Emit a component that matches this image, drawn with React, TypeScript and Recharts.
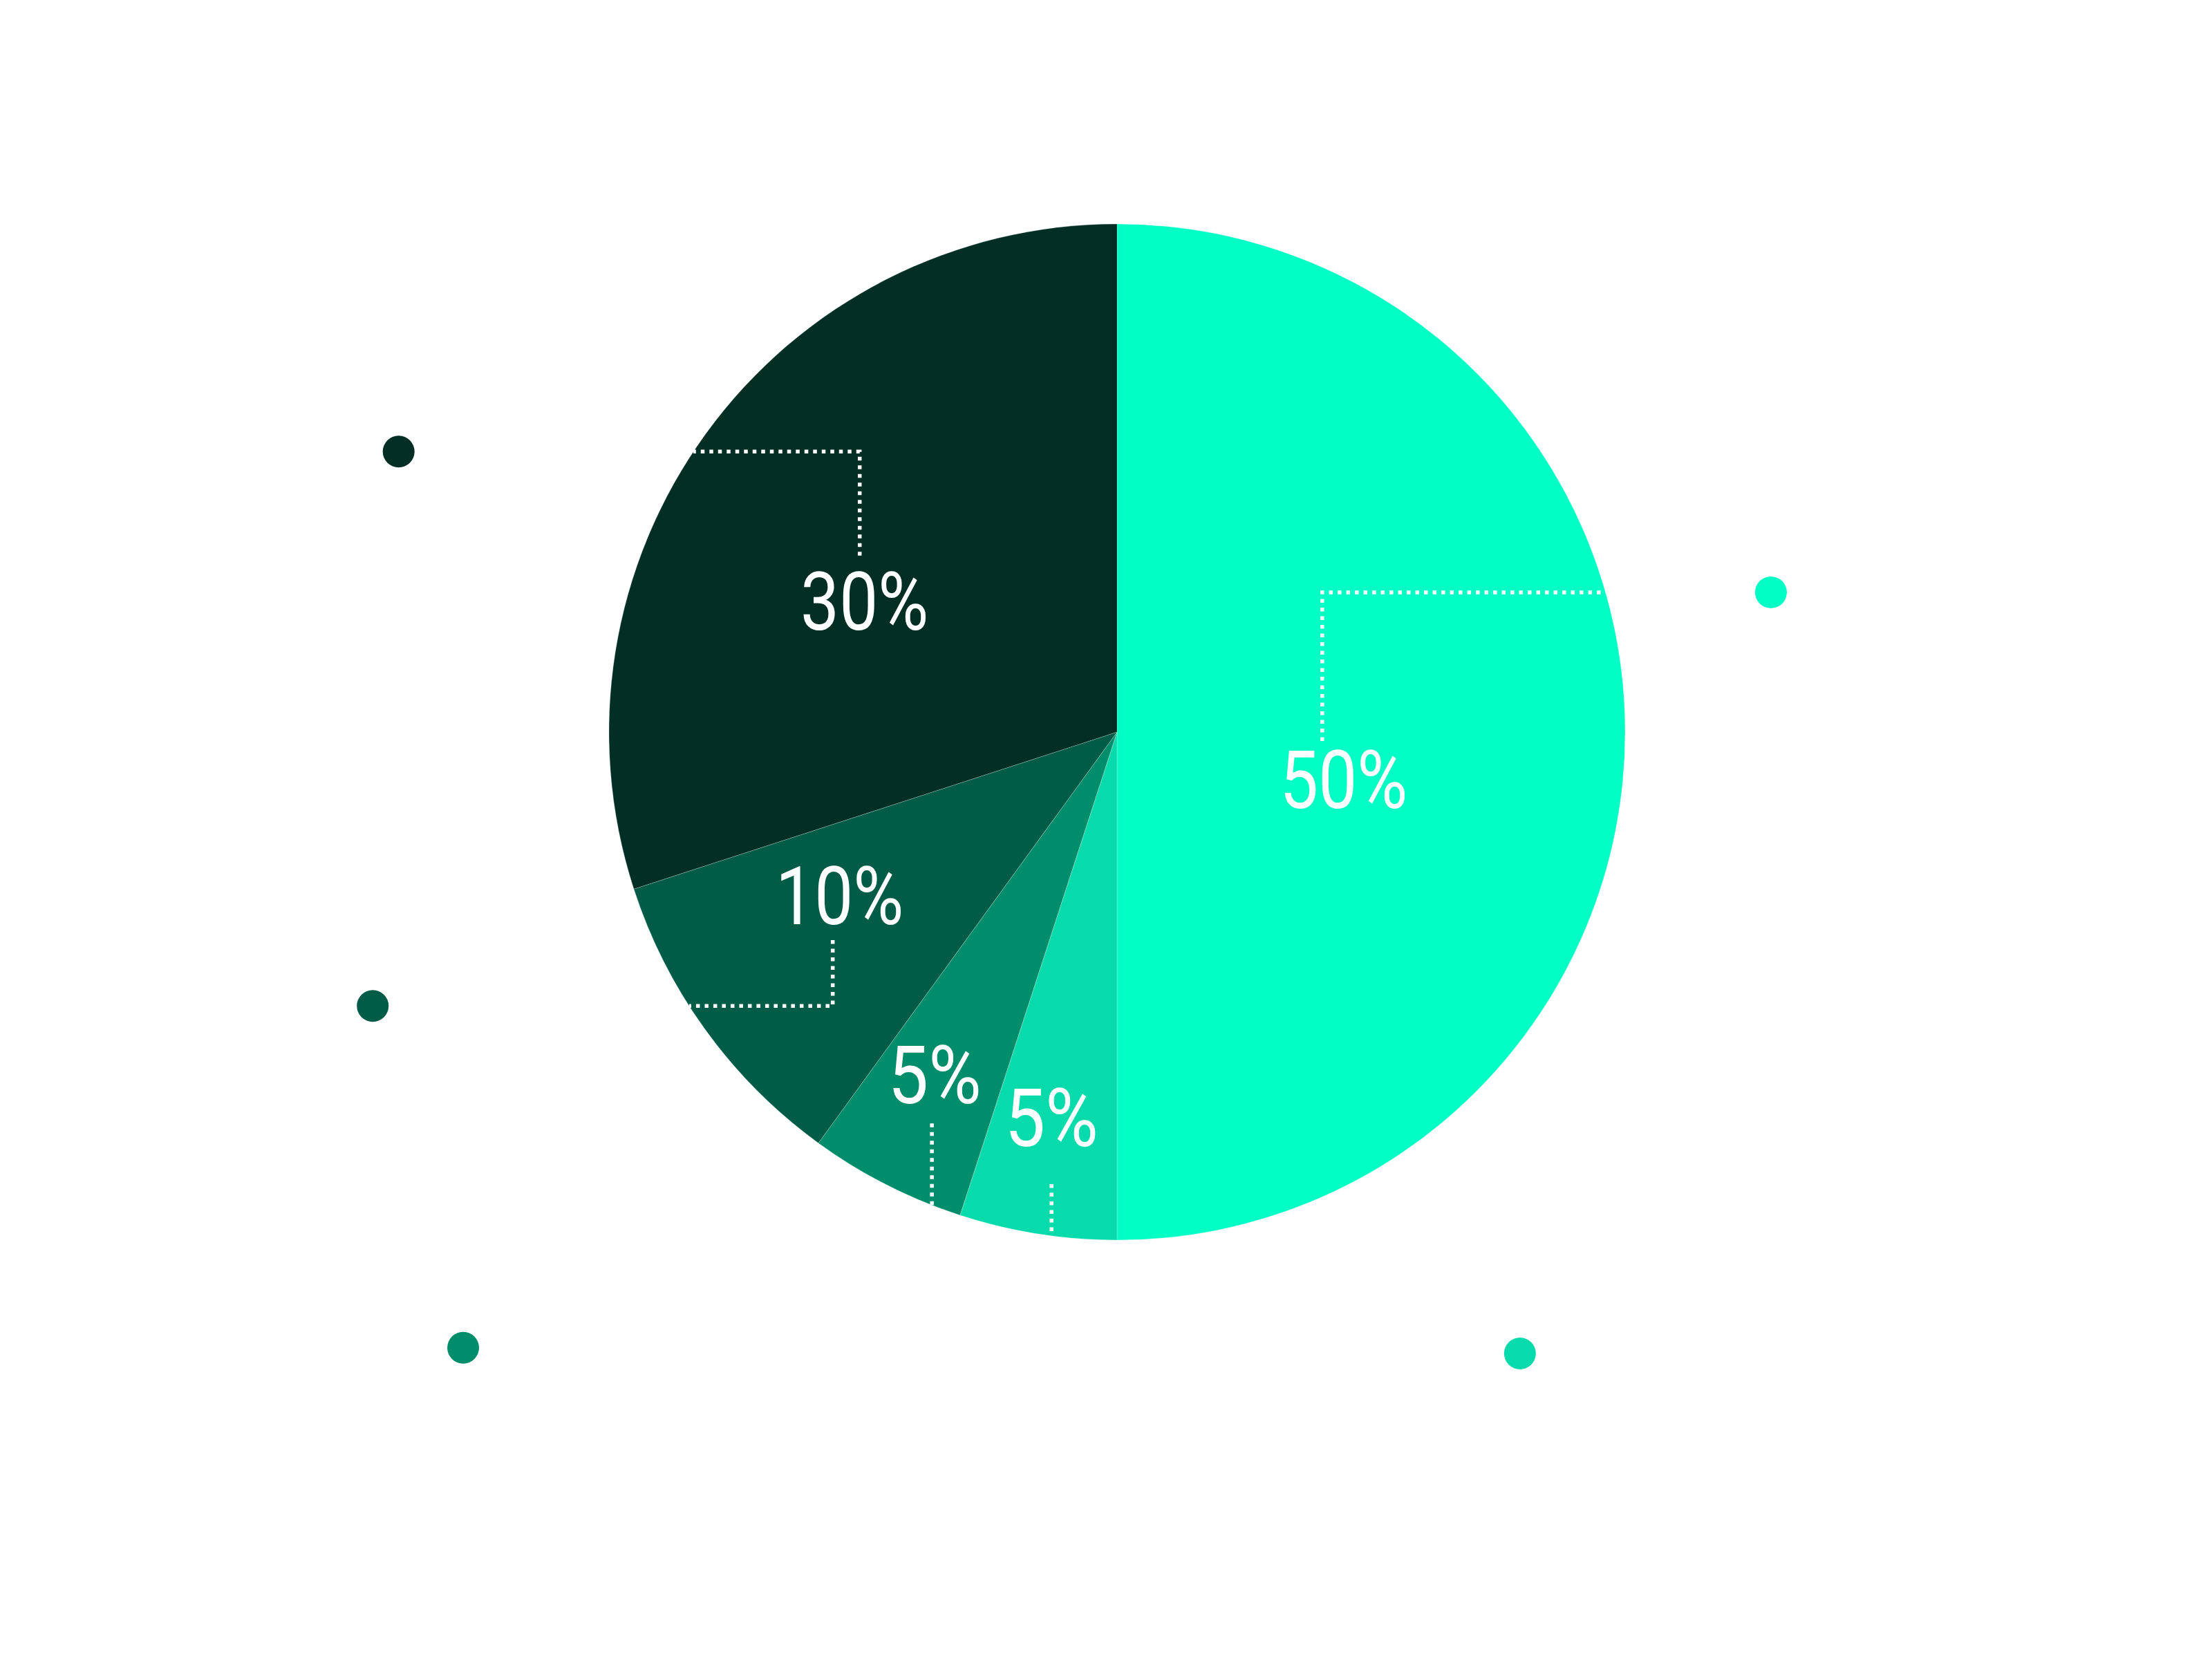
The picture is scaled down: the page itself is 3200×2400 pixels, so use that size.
import { PieChart, Pie, Cell } from "recharts"

const shares = [50, 5, 5, 10, 30]
const sliceNames = ["Segment A", "Segment B", "Segment C", "Segment D", "Segment E"]
const sliceColors = ["#00FFC5", "#07DBAB", "#008D6C", "#005C47", "#022E24"]

// label / leader / dot placement, in outer-radius units from the pie centre
const spots = [
  { dx: 0.446, dy: 0.093, lineDx: -31, gap: 14, elbow: -0.275, dot: [1.287, -0.275] },
  { dx: -0.129, dy: 0.759, lineDx: 0, gap: 55, elbow: null, dot: [0.793, 1.223] },
  { dx: -0.359, dy: 0.675, lineDx: -4, gap: 29, elbow: null, dot: [-1.287, 1.212] },
  { dx: -0.546, dy: 0.322, lineDx: -10, gap: 23, elbow: 0.539, dot: [-1.465, 0.539] },
  { dx: -0.497, dy: -0.257, lineDx: -7, gap: 25, elbow: -0.552, dot: [-1.414, -0.552] },
]

const data = shares.map((v, i) => ({ name: sliceNames[i], value: v }))

const FONT = 116
const CAP = FONT * 0.711

function SliceLabel(props: any) {
  const { cx, cy, outerRadius: R, index, value, fill } = props
  const s = spots[index]
  const lx = cx + s.dx * R
  const ly = cy + s.dy * R
  const px = lx + s.lineDx
  let d = ""
  if (s.elbow != null) {
    const ey = cy + s.elbow * R
    const up = ey < ly
    const y0 = up ? ly - CAP / 2 - s.gap : ly + CAP / 2 + s.gap
    const side = s.dot[0] < 0 ? -1 : 1
    const ex = cx + side * Math.sqrt(R * R - (ey - cy) * (ey - cy))
    d = `M${px},${y0} L${px},${ey} L${ex},${ey}`
  } else {
    const y0 = ly + CAP / 2 + s.gap
    const ey = cy + Math.sqrt(R * R - (px - cx) * (px - cx))
    d = `M${px},${y0} L${px},${ey}`
  }
  const sx = String(value).length > 1 ? 0.86 : 0.9
  return (
    <g>
      <path d={d} fill="none" stroke="#ffffff" strokeWidth={5.5} strokeDasharray="5.5 7" />
      <text
        x={0}
        y={0}
        transform={`translate(${lx},${ly}) scale(${sx},1)`}
        textAnchor="middle"
        dy="0.355em"
        fontFamily="Roboto"
        fontSize={FONT}
        fill="#ffffff"
      >
        {`${value}%`}
      </text>
      <circle cx={cx + s.dot[0] * R} cy={cy + s.dot[1] * R} r={23} fill={fill} />
    </g>
  )
}

export default function App() {
  return (
    <div style={{ position: "absolute", left: 0, top: 0, width: 3200, height: 2400, background: "#ffffff" }}>
      <PieChart width={3200} height={2400} margin={{ top: 0, right: 0, bottom: 0, left: 0 }}>
        <Pie
          data={data}
          dataKey="value"
          nameKey="name"
          cx={1616}
          cy={1059}
          outerRadius={735}
          startAngle={90}
          endAngle={-270}
          stroke="#ffffff"
          strokeOpacity={0.25}
          strokeWidth={1}
          label={SliceLabel}
          labelLine={false}
          isAnimationActive={false}
        >
          {data.map((d, i) => (
            <Cell key={d.name} fill={sliceColors[i]} />
          ))}
        </Pie>
      </PieChart>
    </div>
  )
}
